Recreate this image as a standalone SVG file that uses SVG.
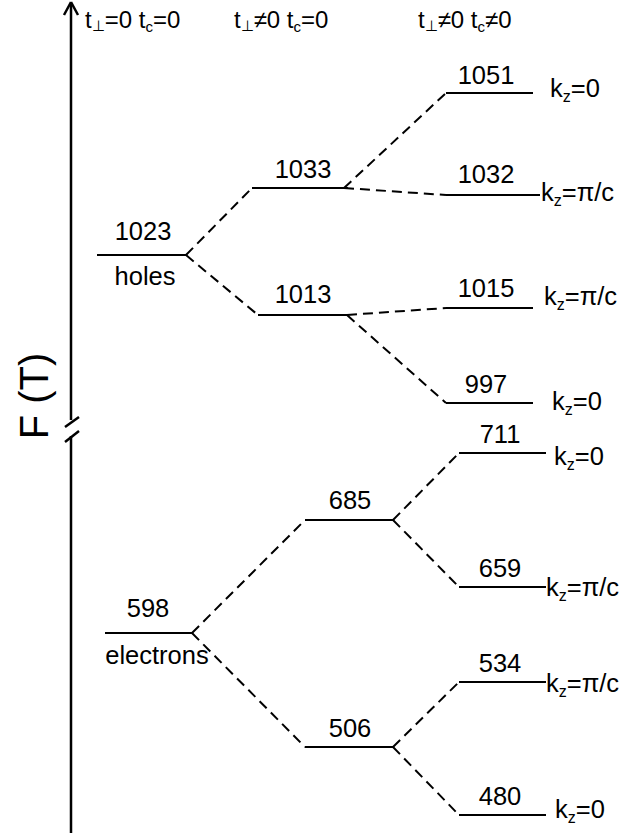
<svg xmlns="http://www.w3.org/2000/svg" width="629" height="833" viewBox="0 0 629 833">
<style>
text{font-family:"Liberation Sans",Arial,sans-serif;font-size:25.5px;fill:#000}
.hd{font-size:24px}
.lvl{stroke:#000;stroke-width:2.2;fill:none}
.c{text-anchor:middle}
.dash{stroke:#000;stroke-width:2;stroke-dasharray:10 6;fill:none}
.ax{stroke:#000;stroke-width:2.5;fill:none}
</style>
<rect width="629" height="833" fill="#fff"/>
<g id="axis">
<line class="ax" x1="71" y1="833" x2="71" y2="436"/>
<line class="ax" x1="71" y1="420" x2="71" y2="4"/>
<path d="M71 2 L64 15 M71 2 L78 15" class="ax"/>
<line class="ax" x1="65" y1="427" x2="79" y2="417"/>
<line class="ax" x1="65" y1="442" x2="79" y2="431"/>
<text transform="translate(48,396) rotate(-90)" class="c" style="font-size:40px">F (T)</text>
</g>
<g id="headers">
<text class="hd" x="85" y="28">t<tspan font-size="15" dy="3">⊥</tspan><tspan dy="-3">=0 t</tspan><tspan font-size="15" dy="4">c</tspan><tspan dy="-4">=0</tspan></text>
<text class="hd" x="234" y="28">t<tspan font-size="15" dy="3">⊥</tspan><tspan dy="-3">≠0 t</tspan><tspan font-size="15" dy="4">c</tspan><tspan dy="-4">=0</tspan></text>
<text class="hd" x="418" y="28">t<tspan font-size="15" dy="3">⊥</tspan><tspan dy="-3">≠0 t</tspan><tspan font-size="15" dy="4">c</tspan><tspan dy="-4">≠0</tspan></text>
</g>
<g id="connectors">
<line class="dash" x1="186" y1="255" x2="252" y2="188"/>
<line class="dash" x1="186" y1="255" x2="258" y2="315"/>
<line class="dash" x1="344" y1="188" x2="446" y2="93"/>
<line class="dash" x1="344" y1="188" x2="446" y2="195"/>
<line class="dash" x1="347" y1="315" x2="446" y2="308"/>
<line class="dash" x1="347" y1="315" x2="446" y2="403"/>
<line class="dash" x1="192" y1="633" x2="305" y2="520"/>
<line class="dash" x1="192" y1="633" x2="305" y2="747"/>
<line class="dash" x1="393" y1="520" x2="459" y2="453"/>
<line class="dash" x1="393" y1="520" x2="459" y2="587"/>
<line class="dash" x1="393" y1="747" x2="459" y2="682"/>
<line class="dash" x1="393" y1="747" x2="459" y2="815"/>
</g>
<g id="n1023"><line class="lvl" x1="97" y1="255" x2="186" y2="255"/><text class="c" x="143" y="240">1023</text><text class="c" x="145" y="285">holes</text></g>
<g id="n1033"><line class="lvl" x1="252" y1="188" x2="348" y2="188"/><text class="c" x="303" y="178">1033</text></g>
<g id="n1013"><line class="lvl" x1="258" y1="315" x2="347" y2="315"/><text class="c" x="303" y="303">1013</text></g>
<g id="n1051"><line class="lvl" x1="446" y1="93" x2="533" y2="93"/><text class="c" x="486" y="84">1051</text><text x="550" y="97">k<tspan font-size="16" dy="5">z</tspan><tspan dy="-5">=0</tspan></text></g>
<g id="n1032"><line class="lvl" x1="446" y1="195" x2="540" y2="195"/><text class="c" x="486" y="183">1032</text><text x="541" y="201">k<tspan font-size="16" dy="5">z</tspan><tspan dy="-5">=π/c</tspan></text></g>
<g id="n1015"><line class="lvl" x1="446" y1="308" x2="533" y2="308"/><text class="c" x="486" y="297">1015</text><text x="544" y="305">k<tspan font-size="16" dy="5">z</tspan><tspan dy="-5">=π/c</tspan></text></g>
<g id="n997"><line class="lvl" x1="446" y1="403" x2="533" y2="403"/><text class="c" x="486" y="393">997</text><text x="552" y="410">k<tspan font-size="16" dy="5">z</tspan><tspan dy="-5">=0</tspan></text></g>
<g id="n685"><line class="lvl" x1="305" y1="520" x2="393" y2="520"/><text class="c" x="350" y="509">685</text></g>
<g id="n506"><line class="lvl" x1="305" y1="747" x2="393" y2="747"/><text class="c" x="350" y="737">506</text></g>
<g id="n598"><line class="lvl" x1="105" y1="633" x2="192" y2="633"/><text class="c" x="148" y="617">598</text><text class="c" x="157" y="664">electrons</text></g>
<g id="n711"><line class="lvl" x1="459" y1="453" x2="546" y2="453"/><text class="c" x="500" y="443">711</text><text x="554" y="465">k<tspan font-size="16" dy="5">z</tspan><tspan dy="-5">=0</tspan></text></g>
<g id="n659"><line class="lvl" x1="459" y1="587" x2="546" y2="587"/><text class="c" x="500" y="577">659</text><text x="546" y="596">k<tspan font-size="16" dy="5">z</tspan><tspan dy="-5">=π/c</tspan></text></g>
<g id="n534"><line class="lvl" x1="459" y1="682" x2="546" y2="682"/><text class="c" x="500" y="672">534</text><text x="546" y="692">k<tspan font-size="16" dy="5">z</tspan><tspan dy="-5">=π/c</tspan></text></g>
<g id="n480"><line class="lvl" x1="459" y1="815" x2="546" y2="815"/><text class="c" x="500" y="805">480</text><text x="555" y="818">k<tspan font-size="16" dy="5">z</tspan><tspan dy="-5">=0</tspan></text></g>
</svg>
